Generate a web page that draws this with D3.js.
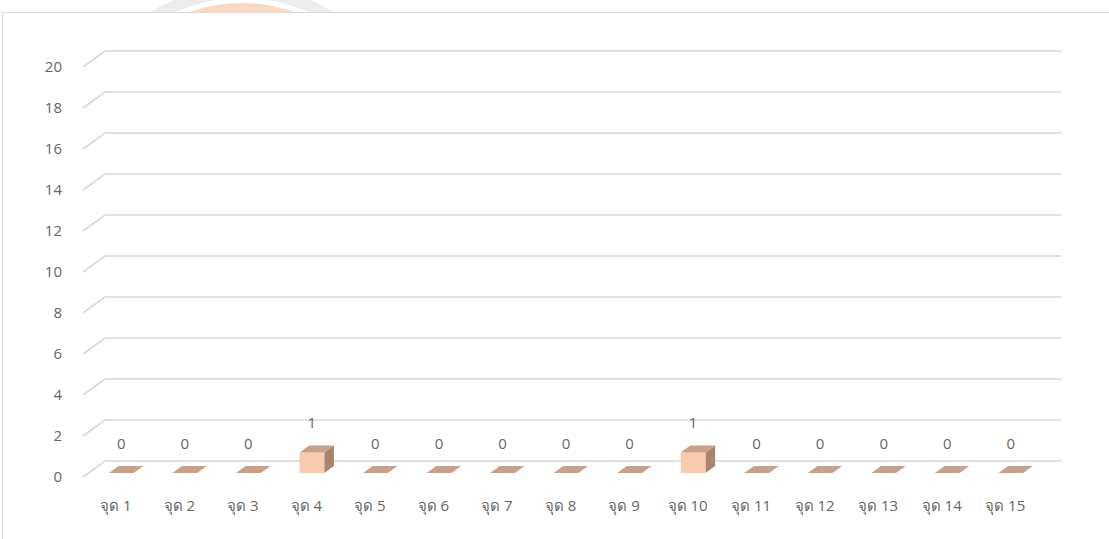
<!DOCTYPE html>
<html>
<head>
<meta charset="utf-8">
<script src="https://cdn.jsdelivr.net/npm/d3@7"></script>
<style>
  html, body { margin: 0; padding: 0; background: #fff; }
  svg { display: block; font-family: "Open Sans", "Noto Sans", sans-serif; }
</style>
</head>
<body>
<div id="chart"></div>
<script>
// point labels along the x axis and counted value per point
const categories = ['จุด 1', 'จุด 2', 'จุด 3', 'จุด 4', 'จุด 5', 'จุด 6', 'จุด 7', 'จุด 8',
  'จุด 9', 'จุด 10', 'จุด 11', 'จุด 12', 'จุด 13', 'จุด 14', 'จุด 15'];
const values = [0, 0, 0, 1, 0, 0, 0, 0, 0, 1, 0, 0, 0, 0, 0];
const yTicks = [0, 2, 4, 6, 8, 10, 12, 14, 16, 18, 20];

const WIDTH = 1109;
const HEIGHT = 539;
const DEPTH = { dx: 22, dy: -16 };   // 3D back-wall offset
const BAR_DEPTH = [0.25, 0.69];      // bar front/back as fraction of floor depth
const TEXT = '#666666';
const GRID = '#D9D9D9';
const FONT = '15px';

const svg = d3.select('#chart').append('svg')
  .attr('width', WIDTH)
  .attr('height', HEIGHT);

// faint watermark peeking above the chart frame
const wm = svg.append('g').attr('opacity', 0.8);
wm.append('clipPath').attr('id', 'wmclip')
  .append('rect').attr('x', 0).attr('y', 0).attr('width', WIDTH).attr('height', 12);
const wmg = wm.append('g').attr('clip-path', 'url(#wmclip)');
[[168, '#e8e8e8', 12], [150, '#f8d0b2', 14], [128, '#e6e6e6', 8], [108, '#fad7bd', 16], [84, '#ececec', 8], [60, '#fbdcc4', 20]]
  .forEach(([r, c, w]) => {
    wmg.append('circle')
      .attr('cx', 242).attr('cy', 160).attr('r', r)
      .attr('fill', 'none').attr('stroke', c).attr('stroke-width', w);
  });

// chart frame
svg.append('rect')
  .attr('x', 2.5).attr('y', 12.5)
  .attr('width', WIDTH + 10).attr('height', HEIGHT)
  .attr('fill', '#fff')
  .attr('stroke', GRID).attr('stroke-width', 1);

const x = d3.scaleBand()
  .domain(categories)
  .range([84, 1037]);

const y = d3.scaleLinear()
  .domain([0, 20])
  .range([477, 67]);

// gridlines: diagonal on the side, then along the back wall
const grid = svg.append('g');
yTicks.forEach(t => {
  const y0 = y(t);
  grid.append('path')
    .attr('d', `M83,${y0} L${83 + DEPTH.dx},${y0 + DEPTH.dy} L1061,${y0 + DEPTH.dy}`)
    .attr('fill', 'none')
    .attr('stroke', GRID)
    .attr('stroke-width', 1.6);
});

// y axis labels
svg.append('g')
  .selectAll('text')
  .data(yTicks)
  .join('text')
  .attr('x', 62)
  .attr('y', d => y(d) + 1)
  .attr('text-anchor', 'end')
  .attr('dominant-baseline', 'middle')
  .style('font-size', FONT)
  .style('fill', TEXT)
  .text(d => d);

// x axis labels
const center = c => x(c) + x.bandwidth() / 2;
svg.append('g')
  .selectAll('text')
  .data(categories)
  .join('text')
  .attr('x', d => center(d))
  .attr('y', 507)
  .attr('text-anchor', 'middle')
  .attr('dominant-baseline', 'middle')
  .style('font-size', FONT)
  .style('fill', TEXT)
  .text(d => d);

// 3D columns
const fx = BAR_DEPTH[0] * DEPTH.dx, fy = BAR_DEPTH[0] * DEPTH.dy;
const ddx = (BAR_DEPTH[1] - BAR_DEPTH[0]) * DEPTH.dx;
const ddy = (BAR_DEPTH[1] - BAR_DEPTH[0]) * DEPTH.dy;
const bw = x.bandwidth() * 0.39;

const bars = svg.append('g')
  .selectAll('g')
  .data(categories.map((c, i) => ({ c, v: values[i] })))
  .join('g');

bars.each(function (d) {
  const g = d3.select(this);
  const cx = center(d.c) + fx;
  const x0 = cx - bw / 2, x1 = cx + bw / 2;
  const yb = y(0) + fy, yt = y(d.v) + fy;
  if (d.v > 0) {
    // side face
    g.append('path')
      .attr('d', `M${x1},${yt} L${x1 + ddx},${yt + ddy} L${x1 + ddx},${yb + ddy} L${x1},${yb} Z`)
      .attr('fill', '#A9856E');
    // front face
    g.append('rect')
      .attr('x', x0).attr('y', yt)
      .attr('width', bw).attr('height', yb - yt)
      .attr('fill', '#F8CBAD');
  }
  // top face
  g.append('path')
    .attr('d', `M${x0},${yt} L${x1},${yt} L${x1 + ddx},${yt + ddy} L${x0 + ddx},${yt + ddy} Z`)
    .attr('fill', '#C9A088');
  // value label
  g.append('text')
    .attr('x', cx)
    .attr('y', yt + ddy - 21)
    .attr('text-anchor', 'middle')
    .attr('dominant-baseline', 'middle')
    .style('font-size', FONT)
    .style('fill', TEXT)
    .text(d.v);
});
</script>
</body>
</html>
